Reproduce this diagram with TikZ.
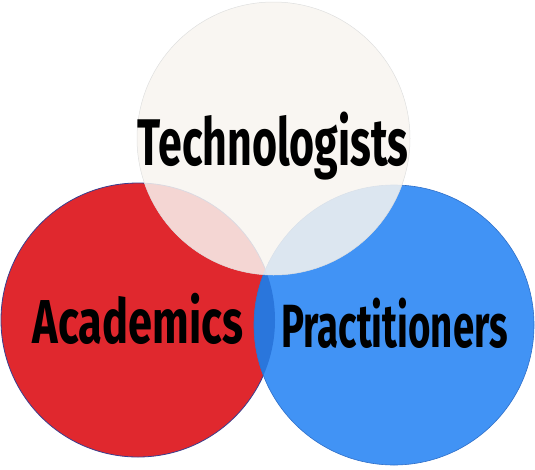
\documentclass[tikz,border=0pt]{standalone}
\usepackage{fontspec}
\setmainfont{Fira Sans}
\newfontfamily\ftech{Fira Sans}[FakeStretch=0.65]
\newfontfamily\facad{Fira Sans}[FakeStretch=0.70]
\newfontfamily\fprac{Fira Sans}[FakeStretch=0.63]
\definecolor{redc}{HTML}{E0282E}
\definecolor{bluec}{HTML}{4193F5}
\definecolor{lensc}{HTML}{2A76DC}
\definecolor{topc}{HTML}{F8F5F0}
\definecolor{redline}{HTML}{3A3F8F}
\definecolor{blueline}{HTML}{2F6FC8}
\tikzset{lbl/.style={text=black, inner sep=0pt, anchor=base}}
\begin{document}
\begin{tikzpicture}[x=1pt,y=-1pt]
\useasboundingbox (0,0) rectangle (535,469);
\coordinate (rc) at (138,320);
\coordinate (bc) at (394,325);
\coordinate (tc) at (273.5,138.5);
\fill[redc] (rc) circle (137);
\draw[redline, line width=0.8pt] (rc) circle (137);
\fill[bluec] (bc) circle (140);
\begin{scope}
\clip (rc) circle (137);
\fill[lensc] (bc) circle (140);
\end{scope}
\draw[blueline, line width=0.6pt] (bc) circle (140);
\fill[topc, fill opacity=0.85] (tc) circle (136.5);
\draw[gray!25, line width=0.5pt] (tc) circle (136.5);
\node[lbl, font=\ftech\bfseries\fontsize{66}{66}\selectfont] (tech) at (273,165) {Technologists};
\node[lbl, font=\facad\bfseries\fontsize{62}{62}\selectfont] (acad) at (138,343) {Academics};
\node[lbl, font=\fprac\bfseries\fontsize{61}{61}\selectfont] (prac) at (394.5,347) {Practitioners};
\end{tikzpicture}
\end{document}
